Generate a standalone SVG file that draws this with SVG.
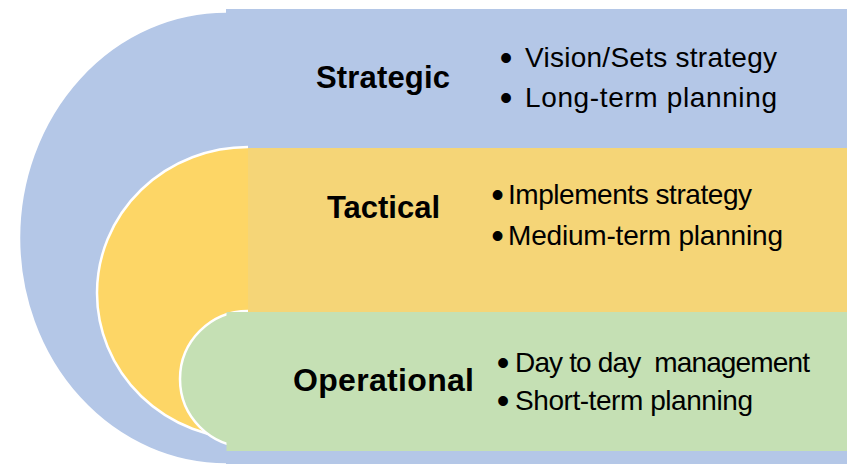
<svg xmlns="http://www.w3.org/2000/svg" width="847" height="464" viewBox="0 0 847 464">
<style>
.lbl{font-family:"Liberation Sans",Arial,sans-serif;font-weight:bold;font-size:31px;fill:#000}
.txt{font-family:"Liberation Sans",Arial,sans-serif;font-size:28px;fill:#000;white-space:pre}
.bul{font-family:"Liberation Sans",Arial,sans-serif;font-size:36px;fill:#000;text-anchor:middle}
.arc{stroke:#fff;stroke-width:2.5}
</style>
<rect width="847" height="464" fill="#fff"/>
<g id="strategic">
<path class="arc" d="M226,11.5 A207,226.5 0 0 0 226,464.5" fill="#B4C7E7"/>
<rect x="226" y="9" width="621" height="460" fill="#B4C7E7"/>
<text class="lbl" x="316" y="88" textLength="134">Strategic</text>
<text class="bul" x="506" y="70">•</text>
<text class="txt" x="525" y="67" textLength="252">Vision/Sets strategy</text>
<text class="bul" x="506" y="110">•</text>
<text class="txt" x="525" y="107" textLength="252">Long-term planning</text>
</g>
<g id="tactical">
<path class="arc" d="M248,147 A151,146 0 0 0 248,439" fill="#FDD666"/>
<rect x="248" y="148" width="599" height="164" fill="#F5D577"/>
<text class="lbl" x="327" y="218" textLength="113">Tactical</text>
<text class="bul" x="497.5" y="207">•</text>
<text class="txt" x="508" y="204" textLength="244">Implements strategy</text>
<text class="bul" x="497.5" y="248">•</text>
<text class="txt" x="508" y="245" textLength="275">Medium-term planning</text>
</g>
<g id="operational">
<path class="arc" d="M248,311 A68,68 0 0 0 248,447" fill="#C5E0B4"/>
<rect x="226.5" y="312" width="620.5" height="139" fill="#C5E0B4"/>
<text class="lbl" x="293" y="391" style="font-size:32px" textLength="181">Operational</text>
<text class="bul" x="503" y="375">•</text>
<text class="txt" x="515" y="372" textLength="295">Day to day  management</text>
<text class="bul" x="503" y="413">•</text>
<text class="txt" x="515" y="410" textLength="238">Short-term planning</text>
</g>
<g id="connectors"></g>
</svg>
